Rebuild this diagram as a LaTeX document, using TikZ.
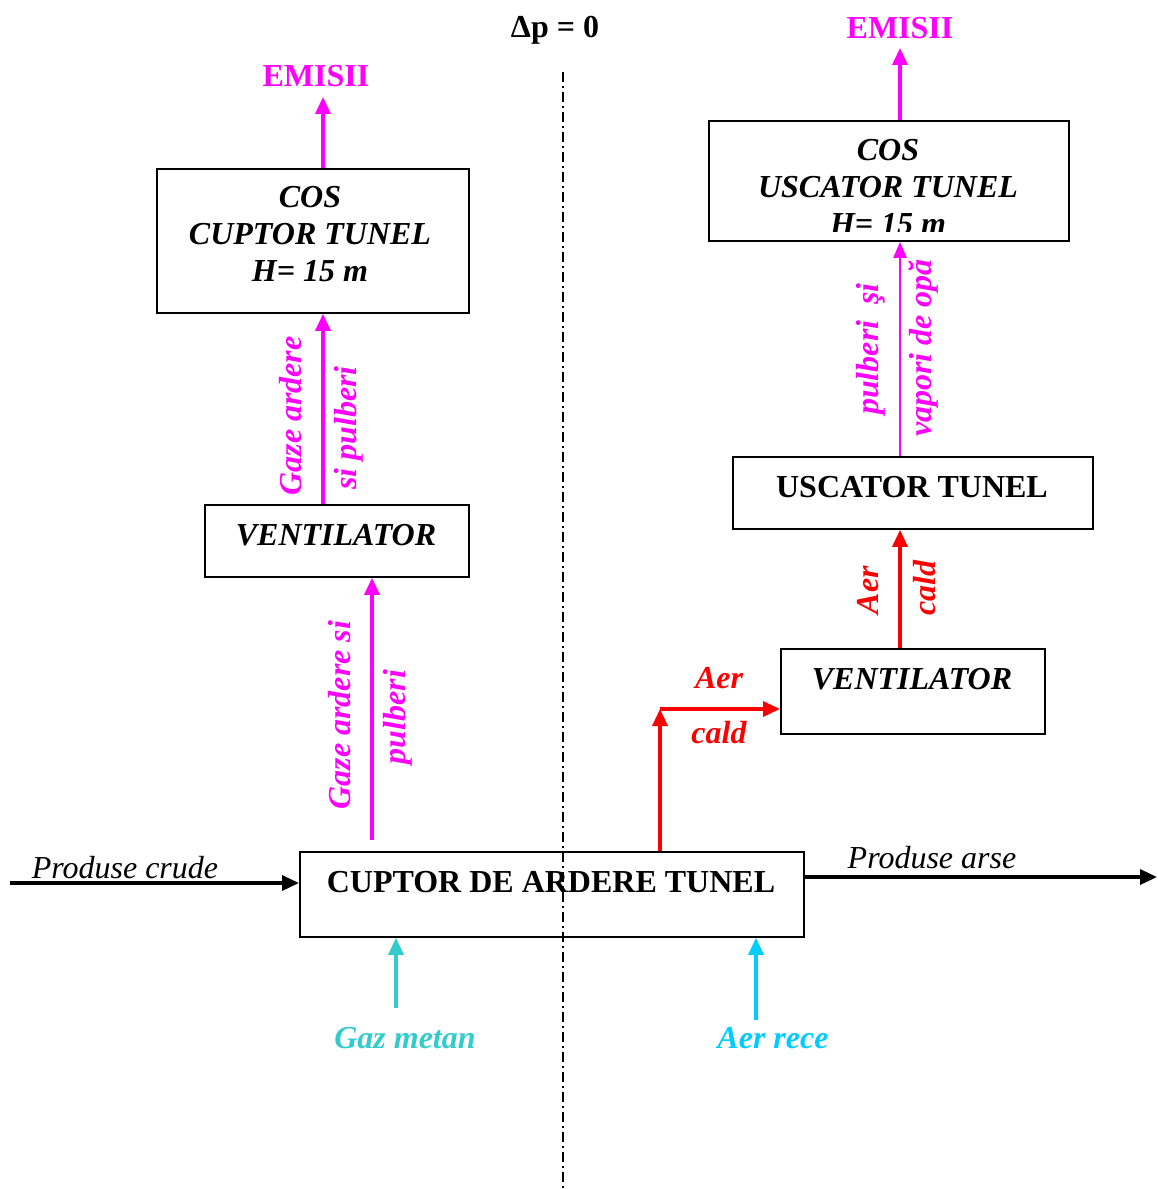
\documentclass[tikz,border=0pt]{standalone}
\usepackage{fontspec}
\setmainfont{Liberation Serif}
\usetikzlibrary{arrows.meta,calc}
\definecolor{mag}{HTML}{FF00FF}
\definecolor{gazc}{HTML}{33CCCC}
\definecolor{aerc}{HTML}{00CCFF}
\newcommand\lblsize{\fontsize{32}{37}\selectfont}
\begin{document}
\begin{tikzpicture}[x=1pt,y=-1pt,
  box/.style={draw,line width=1.8pt,inner sep=0pt,anchor=north west},
  txt/.style={font=\lblsize,inner sep=0pt,align=center},
  bi/.style={txt,font=\lblsize\bfseries\itshape},
  bu/.style={txt,font=\lblsize\bfseries},
  it/.style={txt,font=\lblsize\itshape},
  flow/.style={line width=3.4pt,-{Triangle[length=17pt,width=15pt]}},
  thinflow/.style={line width=2.2pt,-{Triangle[length=16pt,width=13pt]}},
  axis/.style={line width=1.5pt,dash pattern=on 10pt off 4pt on 2pt off 4pt}
]
\useasboundingbox (0,0) rectangle (1157,1189);

% ---- boxes ----
\node[box,minimum width=312pt,minimum height=144pt] (cos1) at (156,168) {};
\node[box,minimum width=264pt,minimum height=72pt] (vent1) at (204,504) {};
\node[box,minimum width=504pt,minimum height=85pt] (cup) at (299,851) {};
\node[box,minimum width=264pt,minimum height=85pt] (vent2) at (780,648) {};
\node[box,minimum width=360pt,minimum height=72pt] (usc) at (732,456) {};
\node[box,minimum width=360pt,minimum height=120pt] (cos2) at (708,120) {};

% ---- box texts ----
\node[bi] (tcos1) at (310,234) {COS\\CUPTOR TUNEL\\H= 15 m};
\node[bi] (tvent1) at (336,535) {VENTILATOR};
\node[bu] (tcup) at (551,882) {CUPTOR DE ARDERE TUNEL};
\node[bi] (tvent2) at (912,679) {VENTILATOR};
\node[bu] (tusc) at (912,487) {USCATOR TUNEL};
\begin{scope}
  \clip (708,120) rectangle (1068,231);
  \node[bi,anchor=north] (tcos2) at (888,139) {COS\\USCATOR TUNEL\\H= 15 m};
\end{scope}

% ---- outside labels ----
\node[bu] (dp) at (555,30) {Δp = 0};
\node[bu,text=mag] (em1) at (316,76) {EMISII};
\node[bu,text=mag] (em2) at (900,28) {EMISII};
\node[it] (pc) at (125,868) {Produse crude};
\node[it] (pa) at (932,858) {Produse arse};
\node[bi,text=gazc] (gm) at (405,1038) {Gaz metan};
\node[bi,text=aerc] (ar) at (773,1038) {Aer rece};

% ---- left branch ----
\coordinate (xa) at (323,0);
\coordinate (xb) at (372,0);
\draw[flow,mag] (xa |- cos1.north) -- ($(xa |- em1.south)+(0,10)$);
\draw[flow,mag] (xa |- vent1.north) -- (xa |- cos1.south);
\draw[flow,mag] ($(xb |- cup.north)+(0,-11)$) -- (xb |- vent1.south);
\node[bi,text=mag,rotate=90] (l1) at (291,416) {Gaze ardere};
\node[bi,text=mag,rotate=90] (l2) at (349,428) {si pulberi};
\node[bi,text=mag,rotate=90] (l3) at (340,715) {Gaze ardere si};
\node[bi,text=mag,rotate=90] (l4) at (398,717) {pulberi};

% ---- right branch ----
\coordinate (xr) at (660,0);
\coordinate (xc) at (900,0);
\coordinate (bend) at (660,709);
\draw[flow,red] (xr |- cup.north) -- (bend);
\draw[flow,red] (bend) -- (bend -| vent2.west);
\node[bi,text=red] (a1) at (719,678) {Aer};
\node[bi,text=red] (a2) at (719,733) {cald};
\draw[flow,red] (xc |- vent2.north) -- (xc |- usc.south);
\node[bi,text=red,rotate=90] (a3) at (868,590) {Aer};
\node[bi,text=red,rotate=90] (a4) at (925,588) {cald};
\draw[thinflow,mag] (xc |- usc.north) -- (xc |- cos2.south);
\node[bi,text=mag,rotate=90] (p1) at (871,349) {pulberi\ \ şi};
\node[bi,text=mag,rotate=90] (p2) at (924,348) {vapori de opă};
\draw[flow,mag] (xc |- cos2.north) -- ($(xc |- em2.south)+(0,9)$);

% ---- products and feeds ----
\coordinate (inl) at (10,883);
\coordinate (outr) at (1157,877);
\draw[flow] (inl) -- (inl -| cup.west);
\draw[flow] (outr -| cup.east) -- (outr);
\coordinate (gz) at (396,1008);
\coordinate (ai) at (756,1020);
\draw[flow,gazc] (gz) -- (gz |- cup.south);
\draw[flow,aerc] (ai) -- (ai |- cup.south);

% ---- pressure balance axis ----
\draw[axis] (563,72) -- (563,1189);
\end{tikzpicture}
\end{document}
